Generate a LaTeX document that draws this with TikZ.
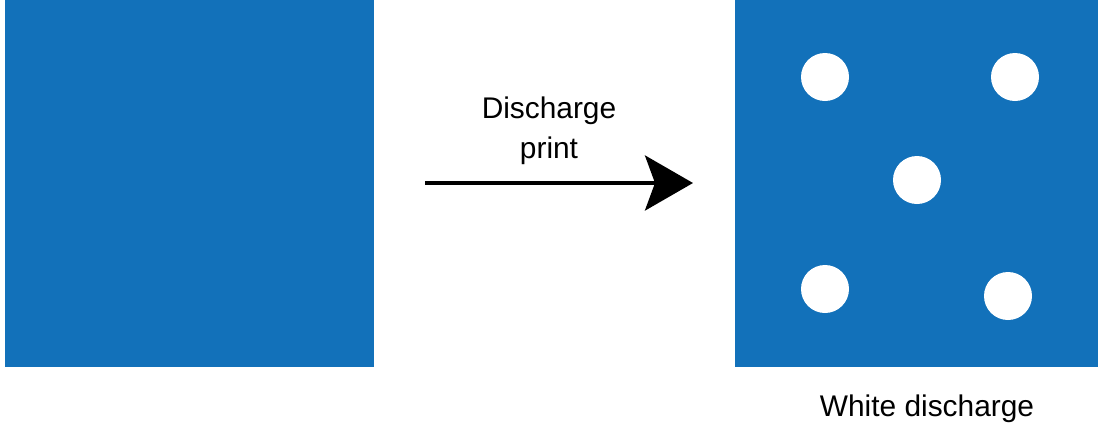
\documentclass[tikz,border=0pt]{standalone}
\usepackage{fontspec}
\setmainfont{Liberation Sans}
\usetikzlibrary{arrows.meta, positioning}
\definecolor{fabricblue}{RGB}{18,113,186}

\begin{document}
\begin{tikzpicture}[x=0.02cm, y=0.02cm,
    label text/.style={font=\fontsize{17}{23}\selectfont, inner sep=0pt, align=center}]
  \useasboundingbox (0,0) rectangle (1098,-427);
  % Plain dyed fabric
  \fill[fabricblue] (5,0) rectangle (374,-367);
  % Discharged fabric with white dots
  \fill[fabricblue] (735,0) rectangle (1098,-367);
  \foreach \x/\y in {825/77, 1015/77, 917/180, 825/289, 1008/296}
    \fill[white] (\x,-\y) circle (24);
  % Arrow
  \coordinate (from) at (425,-183);
  \coordinate (to) at (693,-183);
  \draw[-{Stealth[length=0.96cm, width=1.1cm, inset=0.2cm]}, line width=2.3pt] (from) -- (to);
  \node[label text] (process) at (549,-131) {Discharge\\print};
  \node[label text] (result) at (927,-409) {White discharge};
\end{tikzpicture}
\end{document}
